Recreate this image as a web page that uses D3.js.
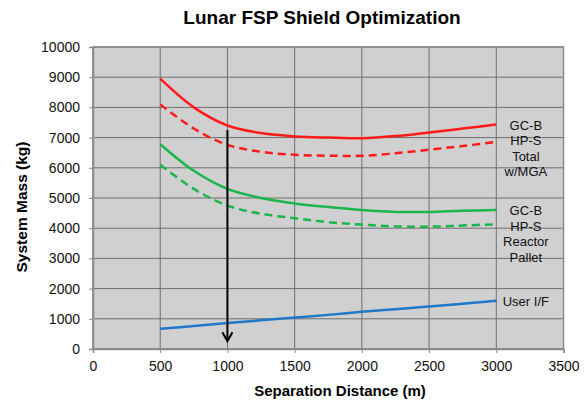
<!DOCTYPE html>
<html>
<head>
<meta charset="utf-8">
<script src="https://cdn.jsdelivr.net/npm/d3@7"></script>
<style>
  body { margin: 0; background: #fff; }
  text { font-family: Arial, "Liberation Sans", sans-serif; }
</style>
</head>
<body>
<div id="chart"></div>
<script>
// separation distance (m) for every series
var distance = [500, 750, 1000, 1250, 1500, 1750, 2000, 2250, 2500, 2750, 3000];
// system mass (kg)
var totalSolid  = [8950, 8000, 7400, 7150, 7040, 7000, 6980, 7050, 7170, 7300, 7430];
var totalDashed = [8100, 7300, 6760, 6530, 6430, 6400, 6400, 6480, 6600, 6720, 6860];
var palletSolid  = [6780, 5900, 5300, 5000, 4820, 4700, 4600, 4540, 4540, 4580, 4600];
var palletDashed = [6100, 5300, 4750, 4480, 4330, 4200, 4120, 4060, 4050, 4090, 4130];
var userIF = [670, 760, 860, 950, 1040, 1130, 1230, 1320, 1410, 1500, 1600];

var xTicks = [0, 500, 1000, 1500, 2000, 2500, 3000, 3500];
var yTicks = [0, 1000, 2000, 3000, 4000, 5000, 6000, 7000, 8000, 9000, 10000];

var labelTotal = ["GC-B", "HP-S", "Total", "w/MGA"];
var labelPallet = ["GC-B", "HP-S", "Reactor", "Pallet"];
var labelUser = "User I/F";

// arrow at the chosen distance
var arrowX = 1000, arrowTop = 7250, arrowBottom = 260;

var margin = {top: 47, right: 23.5, bottom: 51, left: 93},
    width = 587 - margin.left - margin.right,
    height = 400 - margin.top - margin.bottom;

var svg = d3.select("#chart")
  .append("svg")
    .attr("width", 587)
    .attr("height", 400);

var g = svg.append("g")
    .attr("transform", "translate(" + margin.left + "," + margin.top + ")");

var x = d3.scaleLinear().domain([0, 3500]).range([0, width]);
var y = d3.scaleLinear().domain([0, 10000]).range([height, 0]);

// plot background
g.append("rect")
  .attr("width", width)
  .attr("height", height)
  .attr("fill", "#d0d0d0");

// grid
g.append("g").selectAll("line")
  .data(yTicks)
  .enter().append("line")
    .attr("x1", 0).attr("x2", width)
    .attr("y1", function(d) { return y(d); })
    .attr("y2", function(d) { return y(d); })
    .attr("stroke", "#6e6e6e")
    .attr("stroke-width", 1);
g.append("g").selectAll("line")
  .data(xTicks)
  .enter().append("line")
    .attr("y1", 0).attr("y2", height)
    .attr("x1", function(d) { return x(d); })
    .attr("x2", function(d) { return x(d); })
    .attr("stroke", "#6e6e6e")
    .attr("stroke-width", 1);

g.append("rect")
  .attr("width", width)
  .attr("height", height)
  .attr("fill", "none")
  .attr("stroke", "#8a8a8a")
  .attr("stroke-width", 1.5);

// axes
var xAxis = g.append("g")
  .attr("transform", "translate(0," + height + ")")
  .call(d3.axisBottom(x).tickValues(xTicks).tickSize(4).tickPadding(8.5).tickFormat(d3.format("d")));
var yAxis = g.append("g")
  .call(d3.axisLeft(y).tickValues(yTicks).tickSize(4).tickPadding(9).tickFormat(d3.format("d")));
[xAxis, yAxis].forEach(function(a) {
  a.select(".domain").attr("stroke", "#8a8a8a").attr("stroke-width", 1.5);
  a.selectAll(".tick line").attr("stroke", "#8a8a8a");
  a.selectAll("text").attr("font-size", "14px").attr("fill", "#111")
    .style("font-family", "Arial, 'Liberation Sans', sans-serif");
});

// series
var line = d3.line()
  .x(function(d, i) { return x(distance[i]); })
  .y(function(d) { return y(d); })
  .curve(d3.curveCatmullRom);

var series = [
  {values: totalSolid, color: "#ff1a1a", dash: null},
  {values: totalDashed, color: "#ff1a1a", dash: "8,5"},
  {values: palletSolid, color: "#19b64a", dash: null},
  {values: palletDashed, color: "#19b64a", dash: "8,5"},
  {values: userIF, color: "#1f78c8", dash: null}
];
series.forEach(function(s) {
  g.append("path")
    .datum(s.values)
    .attr("d", line)
    .attr("fill", "none")
    .attr("stroke", s.color)
    .attr("stroke-width", 2.5)
    .attr("stroke-dasharray", s.dash);
});

// arrow
g.append("line")
  .attr("x1", x(arrowX)).attr("x2", x(arrowX))
  .attr("y1", y(arrowTop)).attr("y2", y(arrowBottom))
  .attr("stroke", "#000").attr("stroke-width", 2);
g.append("path")
  .attr("d", "M" + (x(arrowX) - 5) + "," + (y(arrowBottom) - 9) +
             "L" + x(arrowX) + "," + y(arrowBottom) +
             "L" + (x(arrowX) + 5) + "," + (y(arrowBottom) - 9))
  .attr("fill", "none").attr("stroke", "#000").attr("stroke-width", 2);

// end labels
function endLabel(lines, value, offset) {
  var t = g.append("text")
    .attr("x", x(3220))
    .attr("y", y(value) + offset)
    .attr("text-anchor", "middle")
    .attr("font-size", "13px")
    .attr("fill", "#111");
  lines.forEach(function(l, i) {
    t.append("tspan").attr("x", x(3220)).attr("dy", i === 0 ? 0 : 15.6).text(l);
  });
}
endLabel(labelTotal, totalSolid[totalSolid.length - 1], 5);
endLabel(labelPallet, palletSolid[palletSolid.length - 1], 5);
endLabel([labelUser], userIF[userIF.length - 1], 5);

// title and axis titles
svg.append("text")
  .attr("x", 322).attr("y", 24)
  .attr("text-anchor", "middle")
  .attr("font-size", "19px").attr("font-weight", "bold")
  .text("Lunar FSP Shield Optimization");
svg.append("text")
  .attr("x", 340).attr("y", 396)
  .attr("text-anchor", "middle")
  .attr("font-size", "15px").attr("font-weight", "bold")
  .text("Separation Distance (m)");
svg.append("text")
  .attr("transform", "translate(27,207) rotate(-90)")
  .attr("text-anchor", "middle")
  .attr("font-size", "15.5px").attr("font-weight", "bold")
  .text("System Mass (kg)");
</script>
</body>
</html>
